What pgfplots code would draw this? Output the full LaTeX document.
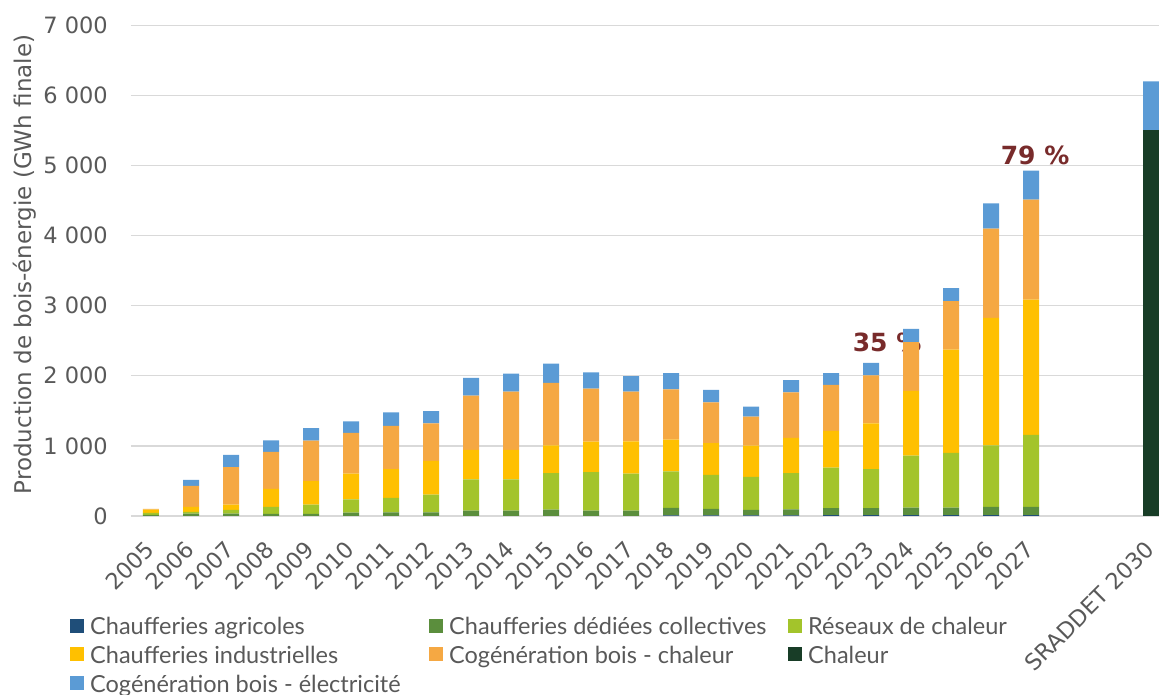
\documentclass[border=0pt]{standalone}
\usepackage{pgfplots}
\usepackage{pgfplotstable}
\pgfplotsset{compat=1.18}
\usepackage{fontspec}
\setmainfont{DejaVu Sans}
\newfontfamily\legfont{Lato}
\definecolor{cAgri}{HTML}{1F4E79}
\definecolor{cColl}{HTML}{5B8E3D}
\definecolor{cRes}{HTML}{A3C42B}
\definecolor{cInd}{HTML}{FFC000}
\definecolor{cCog}{HTML}{F5A843}
\definecolor{cChal}{HTML}{183D27}
\definecolor{cElec}{HTML}{5B9BD5}
\definecolor{txt}{HTML}{595959}
\definecolor{gridc}{HTML}{D9D9D9}
\definecolor{annot}{HTML}{782B2B}
\newcommand{\legtext}[1]{\makebox[339pt][l]{#1}}
\pgfplotstableread{
x agri coll res ind cog chal elec
0 0 15 30 45 12 0 0
1 0 34 24 72 299 0 87
2 0 34 53 77 535 0 174
3 0 29 101 256 530 0 164
4 0 29 135 333 578 0 178
5 0 48 188 367 583 0 164
6 0 53 207 410 617 0 193
7 0 53 251 482 535 0 174
8 0 77 444 424 771 0 256
9 0 77 444 424 829 0 256
10 0 92 520 396 892 0 274
11 0 77 550 434 757 0 231
12 0 77 526 462 709 0 222
13 10 106 520 454 718 0 231
14 8 93 487 453 579 0 178
15 8 79 472 444 414 0 145
16 10 86 516 502 650 0 174
17 12 99 578 526 656 0 168
18 12 99 559 651 685 0 178
19 12 109 742 921 696 0 191
20 12 109 781 1470 694 0 183
21 12 118 878 1817 1273 0 361
22 14 116 1027 1928 1428 0 414
25 0 0 0 0 0 5500 700
}\data
\begin{document}
\begin{tikzpicture}
\path[use as bounding box] (-131pt,-179pt) rectangle (1028pt,516pt);
\begin{axis}[
  at={(0pt,0pt)}, anchor=south west,
  width=1028pt, height=490.7pt, scale only axis,
  ybar stacked, bar width=16pt,
  xmin=-0.5, xmax=25.2, ymin=0, ymax=7000,
  enlargelimits=false,
  xtick={0,1,2,3,4,5,6,7,8,9,10,11,12,13,14,15,16,17,18,19,20,21,22,25},
  xticklabels={2005,2006,2007,2008,2009,2010,2011,2012,2013,2014,2015,2016,2017,2018,2019,2020,2021,2022,2023,2024,2025,2026,2027,SRADDET 2030},
  ytick={0,1000,2000,3000,4000,5000,6000,7000},
  yticklabels={0,1 000,2 000,3 000,4 000,5 000,6 000,7 000},
  ymajorgrids, grid style={color=gridc, line width=1.3pt},
  axis line style={draw=none},
  major tick length=0pt,
  tick label style={font=\fontsize{22.5pt}{27pt}\selectfont, text=txt},
  xticklabel style={xshift=-7pt, yshift=-22pt, rotate=45, anchor=north east, inner sep=1pt},
  yticklabel style={anchor=east, inner sep=0pt, xshift=-23pt},
  ylabel={Production de bois-énergie (GWh finale)},
  ylabel style={at={(axis description cs:-0.1031,0.5125)}, anchor=center, font=\fontsize{23pt}{27pt}\selectfont, text=txt},
  legend columns=3,
  legend cell align=left,
  legend style={at={(-0.0593,-0.206)}, anchor=north west, draw=none, fill=none, inner sep=0pt, row sep=10pt, nodes={inner sep=0pt}, font=\fontsize{23.5pt}{29pt}\selectfont\legfont, text=txt},
  legend image code/.code={\fill[#1] (0pt,-6pt) rectangle (14pt,8pt); \path (20pt,0pt);},
]
\addplot[fill=cAgri, draw=none] table[x=x, y=agri]{\data};
\addlegendentry{\legtext{Chaufferies agricoles}}
\addplot[fill=cColl, draw=none] table[x=x, y=coll]{\data};
\addlegendentry{\legtext{Chaufferies dédiées collectives}}
\addplot[fill=cRes, draw=none] table[x=x, y=res]{\data};
\addlegendentry{\legtext{Réseaux de chaleur}}
\addplot[fill=cInd, draw=none] table[x=x, y=ind]{\data};
\addlegendentry{\legtext{Chaufferies industrielles}}
\addplot[fill=cCog, draw=none] table[x=x, y=cog]{\data};
\addlegendentry{\legtext{Cogénération bois - chaleur}}
\addplot[fill=cChal, draw=none] table[x=x, y=chal]{\data};
\addlegendentry{\legtext{Chaleur}}
\addplot[fill=cElec, draw=none] table[x=x, y=elec]{\data};
\addlegendentry{\legtext{Cogénération bois - électricité}}
\node[font=\bfseries\fontsize{25pt}{30pt}\selectfont, text=annot, anchor=base] at (axis cs:18.4,2348) {35 \%};
\node[font=\bfseries\fontsize{25pt}{30pt}\selectfont, text=annot, anchor=base] at (axis cs:22.1,5009) {79 \%};
\end{axis}
\end{tikzpicture}
\end{document}
